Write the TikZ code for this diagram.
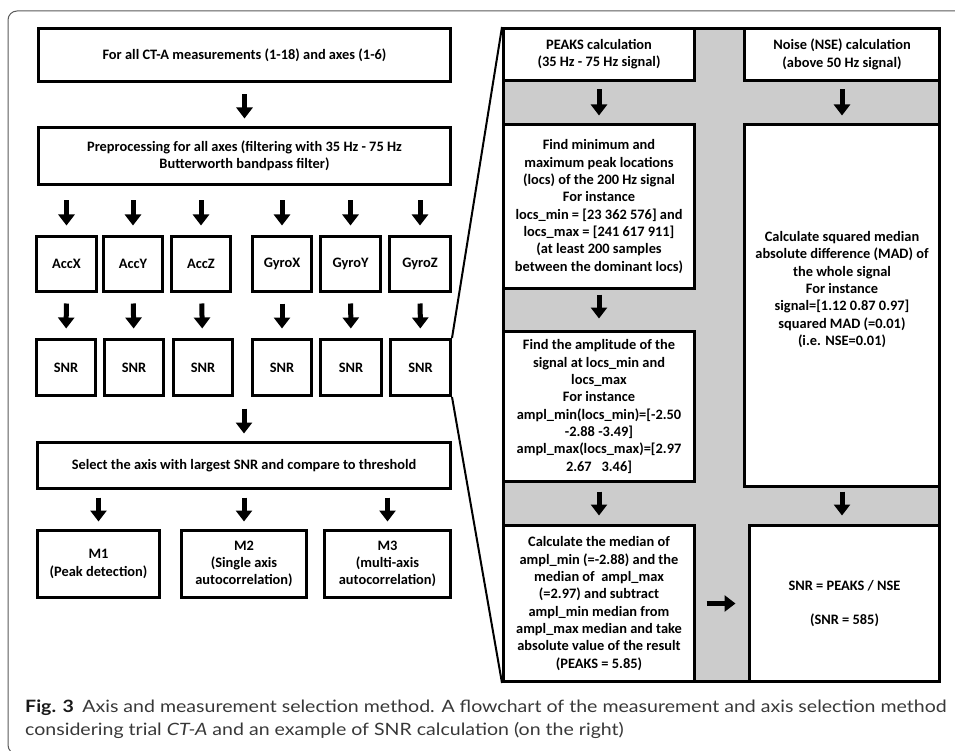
\documentclass[tikz,border=0pt]{standalone}
\usepackage{fontspec}
\setmainfont{Carlito}
\newfontfamily\capfont[FakeStretch=1.15]{Lato}
\usetikzlibrary{arrows.meta}

\begin{document}
\begin{tikzpicture}[x=1pt, y=-1pt,
    box/.style={draw, line width=3pt, fill=white, align=center, inner sep=1pt,
        font={\fontsize{14.4pt}{17.3pt}\selectfont\bfseries}},
    arr/.style={line width=5pt, -{Triangle[width=16pt,length=11pt]},
        shorten <=10pt, shorten >=8pt},
    zoomline/.style={line width=2pt},
    capline/.style={anchor=base west, inner sep=0pt, text=black!78,
        font={\capfont\fontsize{17pt}{22pt}\selectfont}}]
\useasboundingbox (0,0) rectangle (955,751);
\clip (0,0) rectangle (955,751);
% frame of the figure
\draw[black!65, line width=1pt, rounded corners=9pt] (975,11) -- (8,11) -- (8,754) -- (975,754);

% left part: flowchart
\node[box, minimum width=412, minimum height=53] (start) at (244.5,55) {For all CT-A measurements (1-18) and axes (1-6)};
\node[box, minimum width=412, minimum height=57] (prep) at (244.5,156) {Preprocessing for all axes (filtering with 35 Hz - 75 Hz\\ Butterworth bandpass filter)};
\node[box, minimum width=60, minimum height=55] (accx) at (66.5,264) {AccX};
\node[box, minimum width=59, minimum height=55] (accy) at (133,264) {AccY};
\node[box, minimum width=59, minimum height=55] (accz) at (201,264) {AccZ};
\node[box, minimum width=59, minimum height=55] (gyrox) at (282,264) {GyroX};
\node[box, minimum width=60, minimum height=55] (gyroy) at (350.5,264) {GyroY};
\node[box, minimum width=61, minimum height=55] (gyroz) at (420,264) {GyroZ};
\node[box, minimum width=59, minimum height=56] (snrx) at (66,367.5) {SNR};
\node[box, minimum width=59, minimum height=56] (snry) at (134,367.5) {SNR};
\node[box, minimum width=59, minimum height=56] (snrz) at (203,367.5) {SNR};
\node[box, minimum width=59, minimum height=56] (snrgx) at (282,367.5) {SNR};
\node[box, minimum width=61, minimum height=56] (snrgy) at (351,367.5) {SNR};
\node[box, minimum width=60, minimum height=56] (snrgz) at (420.5,367.5) {SNR};
\node[box, minimum width=413, minimum height=46] (select) at (244,465.5) {Select the axis with largest SNR and compare to threshold};
\node[box, minimum width=122, minimum height=67] (mone) at (98.5,564) {M1\\ (Peak detection)};
\node[box, minimum width=125, minimum height=67] (mtwo) at (244,564) {M2\\ (Single axis\\ autocorrelation)};
\node[box, minimum width=126, minimum height=67] (mthree) at (387.5,564) {M3\\ (multi-axis\\ autocorrelation)};

\draw[arr, shorten <=11.5pt, shorten >=7.5pt] (start) -- (prep);
\foreach \n in {accx,accy,accz,gyrox,gyroy,gyroz}
    \draw[arr, shorten <=14.5pt, shorten >=9.5pt] (prep.south -| \n) -- (\n);
\draw[arr, shorten <=10.5pt, shorten >=9.5pt] (accx) -- (snrx);
\draw[arr, shorten <=10.5pt, shorten >=9.5pt] (accy) -- (snry);
\draw[arr, shorten <=10.5pt, shorten >=9.5pt] (accz) -- (snrz);
\draw[arr, shorten <=10.5pt, shorten >=9.5pt] (gyrox) -- (snrgx);
\draw[arr, shorten <=10.5pt, shorten >=9.5pt] (gyroy) -- (snrgy);
\draw[arr, shorten <=10.5pt, shorten >=9.5pt] (gyroz) -- (snrgz);
\draw[arr, shorten <=11.5pt, shorten >=7.5pt] (snrgx.south -| select) -- (select);
\foreach \n in {mone,mtwo,mthree}
    \draw[arr, shorten <=7.5pt, shorten >=7.5pt] (select.south -| \n) -- (\n);

% right part: example of the SNR calculation
\node[draw, line width=3pt, fill=black!20, minimum width=436, minimum height=653] (panel) at (721.5,355) {};
\draw[zoomline] (snrgz.north east) -- (panel.north west);
\draw[zoomline] (snrgz.south east) -- (panel.south west);

\node[box, minimum width=191, minimum height=52] (peaks) at (599,54.5) {PEAKS calculation\\ (35 Hz - 75 Hz signal)};
\node[box, minimum width=195, minimum height=52] (noise) at (842,54.5) {Noise (NSE) calculation\\ (above 50 Hz signal)};
\node[box, minimum width=191, minimum height=164] (locs) at (599,206.5) {Find minimum and\\ maximum peak locations\\ (locs) of the 200 Hz signal\\ For instance\\ locs\_min = [23 362 576] and\\ locs\_max = [241 617 911]\\ (at least 200 samples\\ between the dominant locs)};
\node[box, minimum width=191, minimum height=150] (ampl) at (599,406.5) {Find the amplitude of the\\ signal at locs\_min and\\ locs\_max\\ For instance\\ ampl\_min(locs\_min)=[-2.50\\ -2.88 -3.49]\\ ampl\_max(locs\_max)=[2.97\\ 2.67~~~3.46]};
\node[box, minimum width=195, minimum height=362, text depth=34pt] (mad) at (842,305.5) {Calculate squared median\\ absolute difference (MAD) of\\ the whole signal\\ For instance\\ signal=[1.12 0.87 0.97]\\ squared MAD (=0.01)\\ (i.e. NSE=0.01)};
\node[box, minimum width=191, minimum height=156] (median) at (599,603.5) {Calculate the median of\\ ampl\_min (=-2.88) and the\\ median of~ ampl\_max\\ (=2.97) and subtract\\ ampl\_min median from\\ ampl\_max median and take\\ absolute value of the result\\ (PEAKS = 5.85)};
\node[box, minimum width=190, minimum height=156] (snrres) at (844.5,603.5) {SNR = PEAKS / NSE\\[17.3pt] (SNR = 585)};

\draw[arr, shorten <=7.5pt, shorten >=7.5pt] (peaks) -- (locs);
\draw[arr, shorten <=7.5pt, shorten >=7.5pt] (noise) -- (noise |- mad.north);
\draw[arr, shorten <=4.5pt, shorten >=11.5pt] (locs) -- (ampl);
\draw[arr, shorten <=8.5pt, shorten >=8.5pt] (ampl) -- (median);
\draw[arr, shorten <=3.5pt, shorten >=8.5pt] (mad) -- (mad |- snrres.north);
\draw[arr, shorten <=10.5pt, shorten >=12.5pt] (median) -- (median -| snrres.west);

% caption
\node[capline] (capa) at (25,712) {\textbf{\color{black!90}Fig. 3}\enspace Axis and measurement selection method. A flowchart of the measurement and axis selection method};
\node[capline] (capb) at (25,735) {considering trial \textit{CT-A} and an example of SNR calculation (on the right)};
\end{tikzpicture}
\end{document}
